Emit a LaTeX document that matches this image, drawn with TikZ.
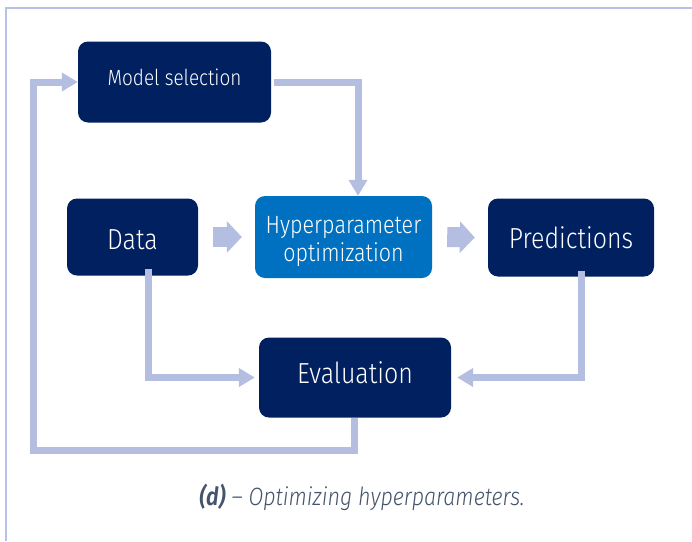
\documentclass[tikz,border=0pt]{standalone}
\usepackage{fontspec}
\setmainfont{Fira Sans Light}[FakeStretch=0.86,
  ItalicFont={Fira Sans Light Italic},
  BoldItalicFont={Fira Sans SemiBold Italic}]
\usetikzlibrary{arrows.meta}
\definecolor{navy}{HTML}{002060}
\definecolor{midblue}{HTML}{0070C0}
\definecolor{lav}{HTML}{B4BEE0}
\definecolor{framec}{HTML}{B8C2E6}
\definecolor{capc}{HTML}{44546A}
% place a label's baseline at a given offset from the block centre
\newcommand{\basedat}[2]{\raisebox{#1}[0pt][0pt]{#2}}
\tikzset{
  box/.style={draw=none, rounded corners=10pt, text=white, align=center, inner sep=0pt},
  conn/.style={draw=lav, line width=7pt, line join=miter,
    -{Triangle[length=16pt,width=18pt]}},
  fat/.style={draw=lav, line width=20pt,
    -{Triangle[length=15pt,width=31pt]}},
}
\begin{document}
\begin{tikzpicture}[x=1pt,y=-1pt]
\useasboundingbox (0,0) rectangle (692,541);
\fill[white] (0,0) rectangle (692,541);
% outer frame
\draw[framec, line width=1.4pt] (6,541) -- (6,8) -- (692,8);

% blocks
\node[box, fill=navy, minimum width=193pt, minimum height=81pt, font=\fontsize{22}{26}\selectfont]
  (ms) at (174.5,82) {\basedat{-3.5pt}{Model selection}};
\node[box, fill=navy, minimum width=131pt, minimum height=77pt, font=\fontsize{29}{32}\selectfont]
  (data) at (132.5,237) {\basedat{-12pt}{Data}};
\node[box, fill=midblue, minimum width=177pt, minimum height=82pt, font=\fontsize{25}{28}\selectfont]
  (hyp) at (343.5,237) {\basedat{3.4pt}{\begin{tabular}[t]{@{}c@{}}Hyperparameter\\optimization\end{tabular}}};
\node[box, fill=navy, minimum width=166pt, minimum height=78pt, font=\fontsize{29}{32}\selectfont]
  (pred) at (571,237.5) {\basedat{-10.5pt}{Predictions}};
\node[box, fill=navy, minimum width=192pt, minimum height=80pt, font=\fontsize{29}{32}\selectfont]
  (eval) at (355,377.5) {\basedat{-5.5pt}{Evaluation}};

% main flow
\draw[fat] ([xshift=15pt]data.east) -- ([xshift=-13pt]hyp.west);
\draw[fat] ([xshift=15pt]hyp.east) -- ([xshift=-13pt]pred.west);

% feedback connectors
\draw[conn] ([xshift=3pt]ms.east) -| ([xshift=14.5pt]hyp.north);
\draw[conn] ([yshift=7pt,xshift=15.5pt]data.south) |- ([xshift=-4pt]eval.west);
\draw[conn] ([yshift=6pt,xshift=10pt]pred.south) |- ([xshift=6pt]eval.east);
\draw[conn] ([xshift=-1pt]eval.south) -- ([xshift=-1pt]eval.south |- 0,450)
  -- (33,450) -- (33,82) -- (ms.west);

% caption
\node[text=capc, font=\fontsize{25}{28}\selectfont\itshape] (cap) at (362,497)
  {\textbf{(d)} – Optimizing hyperparameters.};
\end{tikzpicture}
\end{document}
